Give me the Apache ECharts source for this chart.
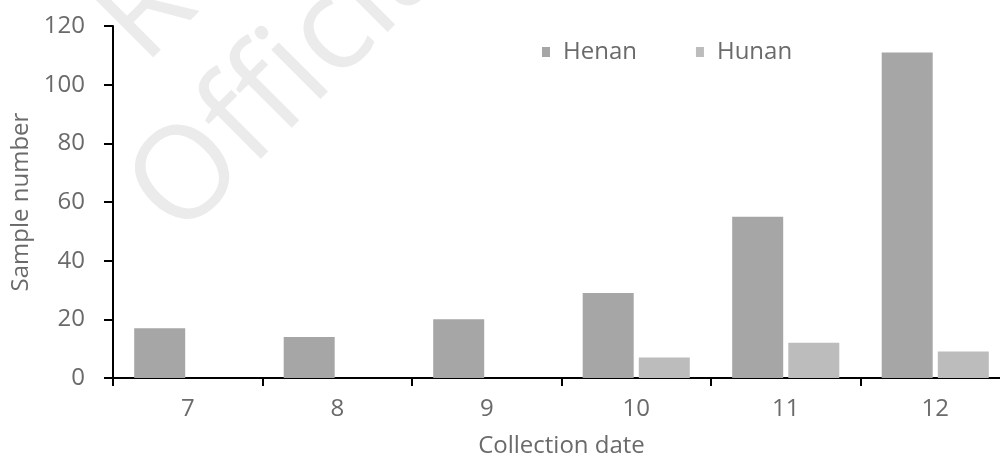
<!DOCTYPE html>
<html>
<head>
<meta charset="utf-8">
<script src="https://cdn.jsdelivr.net/npm/echarts@6/dist/echarts.min.js"></script>
<style>
html,body{margin:0;padding:0;background:#fff;}
#c{width:1000px;height:457px;}
</style>
</head>
<body>
<div id="c"></div>
<script>
const categories = ['7', '8', '9', '10', '11', '12'];
const henan = [17, 14, 20, 29, 55, 111];
const hunan = [null, null, null, 7, 12, 9];
const yTicks = [0, 20, 40, 60, 80, 100, 120];

const FONT = "'Open Sans', 'Liberation Sans', sans-serif";
const TXT = '#6a6a6a';
const WM = '#ebebeb';

const chart = echarts.init(document.getElementById('c'), null, {renderer: 'canvas'});
chart.setOption({
  animation: false,
  backgroundColor: '#ffffff',
  graphic: [
    {type: 'text', x: 118, y: 40, rotation: Math.PI / 4, z: -10,
     style: {text: 'R', fontSize: 130, fontFamily: FONT, fill: WM, verticalAlign: 'middle', align: 'left'}},
    {type: 'text', x: 153, y: 214, rotation: Math.PI / 4, z: -10,
     style: {text: 'Official', fontSize: 130, fontFamily: FONT, fill: WM, verticalAlign: 'middle', align: 'left'}}
  ],
  legend: {
    data: ['Henan', 'Hunan'],
    left: 537,
    top: 35,
    itemWidth: 8,
    itemHeight: 10,
    itemGap: 59,
    icon: 'rect',
    textStyle: {fontSize: 24, fontFamily: FONT, color: TXT, padding: [0, 0, 0, 8]}
  },
  grid: {left: 113, width: 897, top: 26, bottom: 79, containLabel: false, outerBoundsMode: 'none'},
  xAxis: {
    type: 'category',
    data: categories,
    name: 'Collection date',
    nameLocation: 'middle',
    nameGap: 56,
    nameTextStyle: {fontSize: 24, fontFamily: FONT, color: TXT},
    axisLine: {lineStyle: {color: '#000', width: 2}},
    axisTick: {show: true, alignWithLabel: false, length: 8, lineStyle: {color: '#000', width: 2}},
    axisLabel: {fontSize: 24, fontFamily: FONT, color: TXT, margin: 19}
  },
  yAxis: {
    type: 'value',
    min: 0, max: 120, interval: 20,
    name: 'Sample number',
    nameLocation: 'middle',
    nameGap: 80,
    nameTextStyle: {fontSize: 24, fontFamily: FONT, color: TXT},
    axisLine: {show: true, lineStyle: {color: '#000', width: 2}},
    axisTick: {show: true, length: 9, lineStyle: {color: '#000', width: 2}},
    splitLine: {show: false},
    axisLabel: {fontSize: 24, fontFamily: FONT, color: TXT, margin: 28,
      formatter: v => yTicks.includes(v) ? String(v) : ''}
  },
  series: [
    {name: 'Henan', type: 'bar', data: henan, barWidth: 51, barGap: '10%',
     itemStyle: {color: '#a6a6a6'}},
    {name: 'Hunan', type: 'bar', data: hunan, barWidth: 51, barGap: '10%',
     itemStyle: {color: '#bcbcbc'}}
  ]
});
</script>
</body>
</html>
